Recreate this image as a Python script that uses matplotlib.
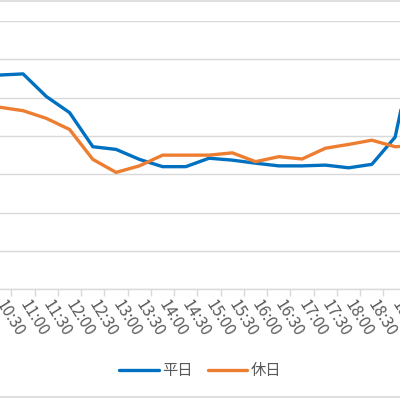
import matplotlib.pyplot as plt
from matplotlib.lines import Line2D

plt.rcParams["font.family"] = ["Noto Sans CJK JP", "DejaVu Sans"]

times = ["10:30", "11:00", "11:30", "12:00", "12:30", "13:00", "13:30",
         "14:00", "14:30", "15:00", "15:30", "16:00", "16:30", "17:00",
         "17:30", "18:00", "18:30", "19:00", "19:30"]
weekday = [5.59, 5.62, 5.03, 4.61, 3.72, 3.65, 3.39, 3.20, 3.20, 3.42,
           3.37, 3.29, 3.22, 3.22, 3.24, 3.17, 3.26, 3.97, 6.80]
holiday = [4.75, 4.66, 4.46, 4.17, 3.39, 3.05, 3.22, 3.50, 3.50, 3.50,
           3.56, 3.33, 3.46, 3.40, 3.68, 3.78, 3.89, 3.72, 3.75]

blue = "#0070C0"
orange = "#ED7D31"
grid = "#D9D9D9"
text = "#595959"

fig = plt.figure(figsize=(4, 4), dpi=100)

# plot area: category spacing ~23.4 px, first category at the left edge
step = 23.4
left_px, right_px = -30, 430
ax = fig.add_axes([left_px / 400, (400 - 289.3) / 400,
                   (right_px - left_px) / 400, (289.3 - 21) / 400])

x = list(range(len(times)))
ax.plot(x, weekday, color=blue, lw=2.4, solid_capstyle="round",
        solid_joinstyle="round", zorder=3)
ax.plot(x, holiday, color=orange, lw=2.4, solid_capstyle="round",
        solid_joinstyle="round", zorder=3)

ax.set_xlim(left_px / step, right_px / step)
ax.set_ylim(0, 7)
ax.set_yticks(range(0, 8))
ax.yaxis.grid(True, color=grid, lw=1)
ax.set_axisbelow(True)
ax.tick_params(axis="y", length=0, labelleft=False)

ax.set_xticks(x)
ax.set_xticklabels(times, rotation=-58, rotation_mode="anchor",
                   ha="left", va="center", color=text, fontsize=11.5)
ax.set_xticks([i - 0.5 for i in range(len(times) + 1)], minor=True)
ax.tick_params(axis="x", which="major", length=0, pad=9)
ax.tick_params(axis="x", which="minor", length=5, width=1, color=grid)

for s in ["left", "right", "top"]:
    ax.spines[s].set_visible(False)
ax.spines["bottom"].set_color(grid)
ax.spines["bottom"].set_linewidth(1)

handles = [Line2D([], [], color=blue, lw=2.4, solid_capstyle="round"),
           Line2D([], [], color=orange, lw=2.4, solid_capstyle="round")]
fig.legend(handles, ["平日", "休日"], loc="center",
           bbox_to_anchor=(0.5, 1 - 371 / 400), ncol=2, frameon=False,
           fontsize=11, labelcolor=text, handlelength=2.6,
           handletextpad=0.2, columnspacing=1.0)

# chart border (top and bottom visible in the crop)
fig.add_artist(Line2D([0, 1], [1 - 0.5 / 400, 1 - 0.5 / 400], color=grid, lw=1.2))
fig.add_artist(Line2D([0, 1], [1 - 396.7 / 400, 1 - 396.7 / 400], color=grid, lw=1.2))

fig.savefig("out.png", dpi=100)
